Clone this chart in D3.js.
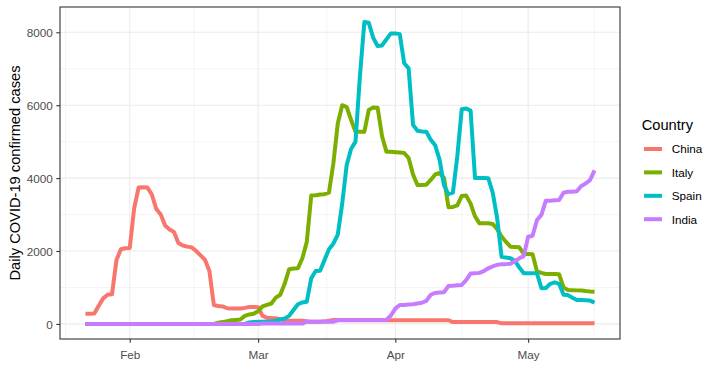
<!DOCTYPE html>
<html>
<head>
<meta charset="utf-8">
<script src="https://cdn.jsdelivr.net/npm/d3@7/dist/d3.min.js"></script>
<style>
  body { margin: 0; background: #ffffff; }
  svg text { font-family: "Liberation Sans", Arial, Helvetica, sans-serif; }
</style>
</head>
<body>
<div id="chart"></div>
<script>
// daily values starting 2020-01-22
var startDate = "2020-01-22";
var countries = ["China", "Italy", "Spain", "India"];
var colors = ["#F8766D", "#7CAE00", "#00BFC4", "#C77CFF"];
var yTicks = [0, 2000, 4000, 6000, 8000];

var china = [
  280, 280, 285, 500, 700, 800, 815, 1750, 2050, 2077,
  2080, 3170, 3740, 3750, 3740, 3550, 3150, 3000, 2700, 2590,
  2520, 2220, 2150, 2120, 2100, 2000, 1880, 1760, 1450, 520,
  490, 480, 430, 425, 425, 425, 440, 466, 466, 460,
  220, 170, 160, 155, 130, 90, 85, 85, 85, 85,
  70, 60, 60, 60, 70, 90, 110, 110, 110, 110,
  110, 110, 110, 110, 110, 110, 110, 110, 100, 100,
  100, 100, 100, 100, 100, 100, 100, 100, 100, 100,
  100, 100, 100, 50, 50, 50, 50, 50, 50, 50,
  50, 50, 50, 50, 15, 15, 15, 15, 15, 15,
  15, 15, 15, 15, 15, 15, 15, 15, 15, 15,
  15, 15, 15, 15, 15, 15
];

var italy = [
  0, 0, 0, 0, 0, 0, 0, 0, 0, 0,
  0, 0, 0, 0, 0, 0, 0, 0, 0, 0,
  0, 0, 0, 0, 0, 0, 0, 0, 0, 0,
  30, 50, 75, 100, 110, 120, 220, 260, 280, 350,
  480, 520, 560, 720, 800, 1100, 1500, 1520, 1530, 1800,
  2250, 3520, 3530, 3550, 3560, 3600, 4400, 5500, 6000, 5950,
  5600, 5270, 5270, 5270, 5870, 5940, 5930, 5150, 4720, 4720,
  4710, 4700, 4690, 4550, 4100, 3810, 3810, 3820, 3950, 4100,
  4140, 4000, 3200, 3210, 3250, 3510, 3520, 3300, 2950, 2760,
  2760, 2760, 2740, 2600, 2400, 2250, 2120, 2110, 2100, 1920,
  1920, 1910, 1440, 1400, 1370, 1370, 1370, 1360, 1000, 930,
  925, 920, 915, 900, 890, 885
];

var spain = [
  0, 0, 0, 0, 0, 0, 0, 0, 0, 0,
  0, 0, 0, 0, 0, 0, 0, 0, 0, 0,
  0, 0, 0, 0, 0, 0, 0, 0, 0, 0,
  0, 0, 0, 0, 0, 0, 0, 40, 50, 60,
  60, 65, 70, 90, 120, 150, 220, 380, 540, 590,
  610, 1250, 1450, 1460, 1750, 2050, 2200, 2450, 3300, 4350,
  4800, 5000, 6800, 8280, 8260, 7850, 7620, 7640, 7810, 7970,
  7970, 7950, 7150, 7010, 5460, 5300, 5280, 5270, 5050, 4900,
  4500, 3800, 3560, 3600, 4600, 5890, 5910, 5850, 4000, 4000,
  4000, 3995, 3600, 2900, 1840, 1820, 1800, 1730, 1550, 1390,
  1390, 1390, 1388, 980, 985, 1100, 1140, 1100, 800, 790,
  720, 656, 655, 650, 640, 585
];

var india = [
  0, 0, 0, 0, 0, 0, 0, 0, 0, 0,
  0, 0, 0, 0, 0, 0, 0, 0, 0, 0,
  0, 0, 0, 0, 0, 0, 0, 0, 0, 0,
  0, 0, 0, 0, 0, 0, 0, 0, 0, 0,
  10, 10, 10, 10, 10, 10, 10, 10, 10, 10,
  60, 60, 60, 60, 60, 60, 60, 100, 100, 100,
  100, 100, 100, 100, 100, 100, 100, 100, 110, 230,
  420, 520, 520, 530, 540, 560, 580, 630, 800, 850,
  860, 870, 1040, 1050, 1060, 1070, 1200, 1380, 1390, 1400,
  1450, 1525, 1580, 1620, 1640, 1640, 1650, 1720, 1800, 1860,
  2390, 2420, 2850, 2990, 3380, 3380, 3390, 3400, 3600, 3627,
  3627, 3640, 3783, 3850, 3950, 4210
];

var series = [china, italy, spain, india];

var width = 720, height = 384;
var pLeft = 60, pRight = 620, pTop = 7, pBottom = 339;

var t0 = d3.utcParse("%Y-%m-%d")(startDate);
var days = china.map(function(v, i) { return d3.utcDay.offset(t0, i); });

var tMin = days[0], tMax = days[days.length - 1];
var span = tMax - tMin;
var x = d3.scaleUtc()
  .domain([new Date(+tMin - span * 0.05), new Date(+tMax + span * 0.05)])
  .range([pLeft, pRight]);

var vMin = d3.min(series, function(s) { return d3.min(s); });
var vMax = d3.max(series, function(s) { return d3.max(s); });
var vSpan = vMax - vMin;
var y = d3.scaleLinear()
  .domain([vMin - vSpan * 0.05, vMax + vSpan * 0.05])
  .range([pBottom, pTop]);

var svg = d3.select("#chart").append("svg")
  .attr("width", width)
  .attr("height", height)
  .attr("viewBox", "0 0 " + width + " " + height);

svg.append("rect")
  .attr("width", width)
  .attr("height", height)
  .attr("fill", "#ffffff");

// grid
var xMajor = x.ticks(d3.utcMonth);
var xMinor = [];
xMajor.forEach(function(t, i) {
  if (i > 0) xMinor.push(new Date((+xMajor[i - 1] + +t) / 2));
});
xMinor.unshift(new Date(+xMajor[0] - (xMajor[1] - xMajor[0]) / 2));
xMinor.push(new Date(+xMajor[xMajor.length - 1] + (xMajor[xMajor.length - 1] - xMajor[xMajor.length - 2]) / 2));
xMinor = xMinor.filter(function(t) { return x(t) > pLeft && x(t) < pRight; });

var yMinor = [];
yTicks.forEach(function(v, i) {
  if (i > 0) yMinor.push((yTicks[i - 1] + v) / 2);
});

var grid = svg.append("g").attr("class", "grid");

grid.selectAll("line.yminor")
  .data(yMinor)
  .enter().append("line")
  .attr("x1", pLeft).attr("x2", pRight)
  .attr("y1", function(d) { return y(d); })
  .attr("y2", function(d) { return y(d); })
  .attr("stroke", "#ebebeb")
  .attr("stroke-width", 0.55);

grid.selectAll("line.xminor")
  .data(xMinor)
  .enter().append("line")
  .attr("y1", pTop).attr("y2", pBottom)
  .attr("x1", function(d) { return x(d); })
  .attr("x2", function(d) { return x(d); })
  .attr("stroke", "#ebebeb")
  .attr("stroke-width", 0.55);

grid.selectAll("line.ymajor")
  .data(yTicks)
  .enter().append("line")
  .attr("x1", pLeft).attr("x2", pRight)
  .attr("y1", function(d) { return y(d); })
  .attr("y2", function(d) { return y(d); })
  .attr("stroke", "#ebebeb")
  .attr("stroke-width", 1.1);

grid.selectAll("line.xmajor")
  .data(xMajor)
  .enter().append("line")
  .attr("y1", pTop).attr("y2", pBottom)
  .attr("x1", function(d) { return x(d); })
  .attr("x2", function(d) { return x(d); })
  .attr("stroke", "#ebebeb")
  .attr("stroke-width", 1.1);

// lines
var line = d3.line()
  .x(function(d, i) { return x(days[i]); })
  .y(function(d) { return y(d); });

svg.selectAll("path.country")
  .data(series)
  .enter().append("path")
  .attr("class", "country")
  .attr("fill", "none")
  .attr("stroke", function(d, i) { return colors[i]; })
  .attr("stroke-width", 4)
  .attr("stroke-linejoin", "round")
  .attr("d", line);

// panel border
svg.append("rect")
  .attr("x", pLeft)
  .attr("y", pTop)
  .attr("width", pRight - pLeft)
  .attr("height", pBottom - pTop)
  .attr("fill", "none")
  .attr("stroke", "#333333")
  .attr("stroke-width", 1.1);

// axes
var yAxis = svg.append("g")
  .attr("transform", "translate(" + pLeft + ",0)")
  .call(d3.axisLeft(y).tickValues(yTicks).tickSize(3.7).tickPadding(3.6).tickFormat(d3.format("d")));

var xAxis = svg.append("g")
  .attr("transform", "translate(0," + pBottom + ")")
  .call(d3.axisBottom(x).tickValues(xMajor).tickSize(3.7).tickFormat(d3.utcFormat("%b")));

[yAxis, xAxis].forEach(function(ax) {
  ax.select(".domain").remove();
  ax.selectAll(".tick line").attr("stroke", "#333333").attr("stroke-width", 1.1);
  ax.selectAll(".tick text")
    .attr("fill", "#4d4d4d")
    .attr("font-size", "11.73px");
});

yAxis.selectAll(".tick text").attr("dy", "0.38em");
xAxis.selectAll(".tick text").attr("y", 20.3).attr("dy", 0);

// axis title
svg.append("text")
  .attr("transform", "translate(20," + ((pTop + pBottom) / 2) + ") rotate(-90)")
  .attr("text-anchor", "middle")
  .attr("font-size", "14.67px")
  .attr("fill", "#000000")
  .text("Daily COVID-19 confirmed cases");

// legend
var legend = svg.append("g").attr("transform", "translate(641.7,0)");

legend.append("text")
  .attr("x", 0)
  .attr("y", 129.5)
  .attr("font-size", "14.67px")
  .attr("fill", "#000000")
  .text("Country");

var keys = legend.selectAll("g.key")
  .data(countries)
  .enter().append("g")
  .attr("class", "key")
  .attr("transform", function(d, i) { return "translate(0," + (149 + i * 23.4) + ")"; });

keys.append("line")
  .attr("x1", 2.3).attr("x2", 20.3)
  .attr("y1", 0).attr("y2", 0)
  .attr("stroke", function(d, i) { return colors[i]; })
  .attr("stroke-width", 4);

keys.append("text")
  .attr("x", 30)
  .attr("y", 4.3)
  .attr("font-size", "11.73px")
  .attr("fill", "#000000")
  .text(function(d) { return d; });
</script>
</body>
</html>
